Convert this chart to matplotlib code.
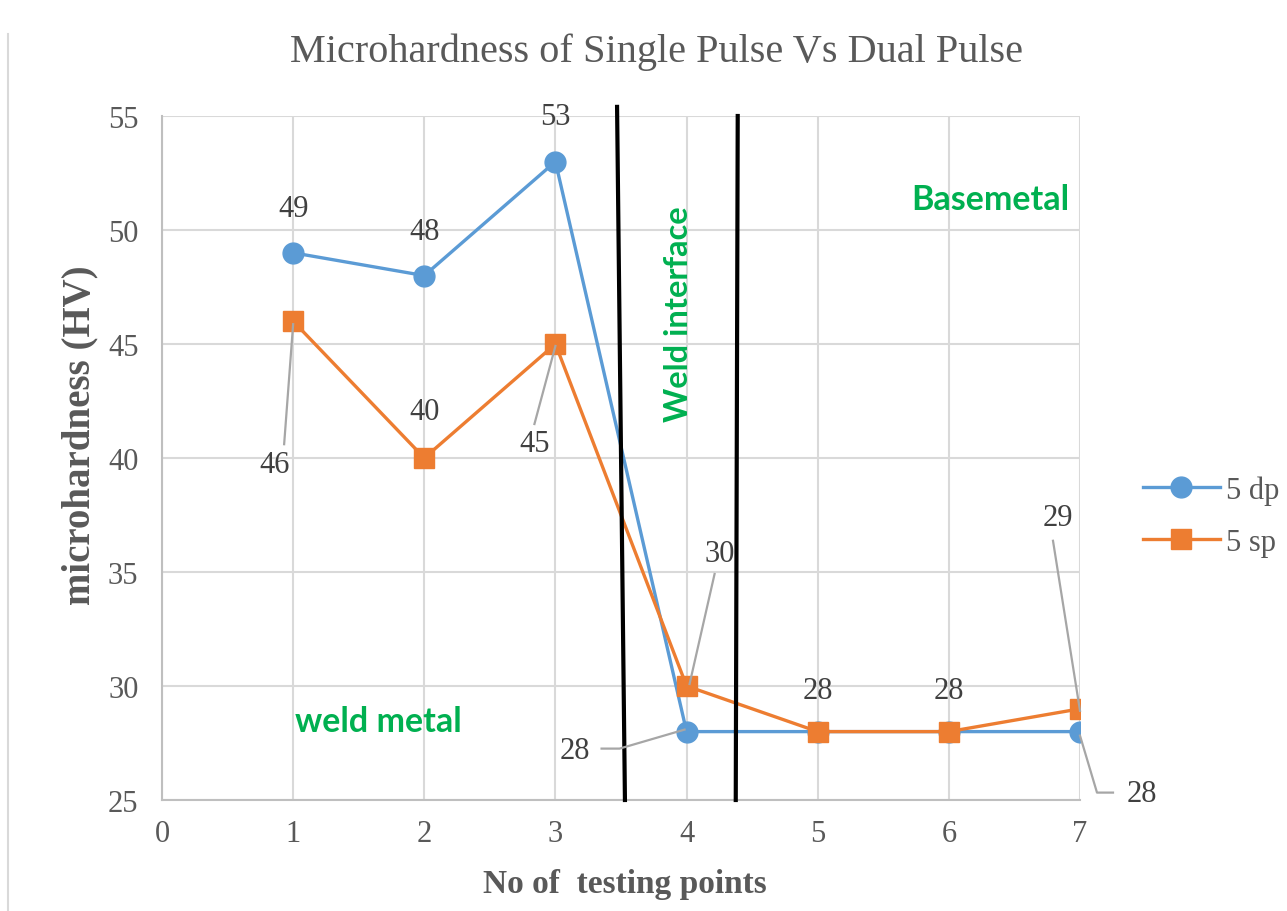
import matplotlib
matplotlib.use("Agg")
import matplotlib.pyplot as plt
import matplotlib.transforms as mtransforms
from matplotlib.lines import Line2D

# ---- data ----
x_points = [1, 2, 3, 4, 5, 6, 7]
dp_values = [49, 48, 53, 28, 28, 28, 28]
sp_values = [46, 40, 45, 30, 28, 28, 29]
series_names = ["5 dp", "5 sp"]
x_ticks = [0, 1, 2, 3, 4, 5, 6, 7]
y_ticks = [25, 30, 35, 40, 45, 50, 55]
title = "Microhardness of Single Pulse Vs Dual Pulse"
xlabel = "No of  testing points"
ylabel = "microhardness (HV)"
boundary1 = ([3.47, 3.53], [55.4, 25])
boundary2 = ([4.39, 4.375], [55, 25])

BLUE = "#5B9BD5"
ORANGE = "#ED7D31"
GREEN = "#00B050"
GREY_TXT = "#595959"
LEADER = "#A6A6A6"
SERIF = "Liberation Serif"
GFONT = "Lato"

fig = plt.figure(figsize=(12.87, 9.12), dpi=100)
ax = fig.add_axes([162/1287, 1-801/912, (1080-162)/1287, (801-117)/912])

ax.set_xlim(0, 7)
ax.set_ylim(25, 55)
ax.set_xticks(x_ticks)
ax.set_yticks(y_ticks)
ax.grid(True, color="#D9D9D9", linewidth=1.5)
ax.set_axisbelow(True)
for s in ["top", "right"]:
    ax.spines[s].set_visible(False)
for s in ["left", "bottom"]:
    ax.spines[s].set_color("#BFBFBF")
    ax.spines[s].set_linewidth(1.5)
ax.tick_params(length=0, labelsize=22, labelcolor=GREY_TXT)
ax.tick_params(axis="y", pad=17)
ax.tick_params(axis="x", pad=14)
for lab in ax.get_xticklabels() + ax.get_yticklabels():
    lab.set_fontfamily(SERIF)

ax.plot(x_points, dp_values, color=BLUE, lw=2.4, marker="o", ms=15,
        label=series_names[0], zorder=4)
ax.plot(x_points, sp_values, color=ORANGE, lw=2.4, marker="s", ms=14,
        label=series_names[1], zorder=5)

ax.plot(*boundary1, color="black", lw=3, clip_on=False, zorder=6)
ax.plot(*boundary2, color="black", lw=3, clip_on=False, zorder=6)

def label(x, y, text, dx, dy, leader=None):
    ax.annotate(text, (x, y), xytext=(dx, dy), textcoords="offset pixels",
                ha="center", va="center", fontsize=22, color="#404040",
                family=SERIF, zorder=8)
    if leader:
        tr = mtransforms.IdentityTransform() + mtransforms.ScaledTranslation(x, y, ax.transData)
        xs = [p[0] for p in leader]
        ys = [p[1] for p in leader]
        ax.add_line(Line2D(xs, ys, transform=tr, color=LEADER, lw=1.6,
                           clip_on=False, zorder=7))

# dp labels
label(x_points[0], dp_values[0], str(dp_values[0]), 0, 44)
label(x_points[1], dp_values[1], str(dp_values[1]), 0, 44)
label(x_points[2], dp_values[2], str(dp_values[2]), 0, 45)
label(x_points[3], dp_values[3], str(dp_values[3]), -112, -19,
      leader=[(-85, -17), (-67, -17), (-2, 2)])
label(x_points[6], dp_values[6], str(dp_values[6]), 62, -62,
      leader=[(0, -4), (17, -61), (33, -61)])
# sp labels
label(x_points[0], sp_values[0], str(sp_values[0]), -19, -143,
      leader=[(-9, -123), (0, -3)])
label(x_points[1], sp_values[1], str(sp_values[1]), 0, 46)
label(x_points[2], sp_values[2], str(sp_values[2]), -21, -100,
      leader=[(-21, -80), (0, -2)])
label(x_points[3], sp_values[3], str(sp_values[3]), 33, 132,
      leader=[(28, 112), (3, 2)])
label(x_points[4], sp_values[4], str(sp_values[4]), 0, 41)
label(x_points[5], sp_values[5], str(sp_values[5]), 0, 41)
label(x_points[6], sp_values[6], str(sp_values[6]), -22, 191,
      leader=[(-27, 168), (0, -2)])

# region annotations
ax.text((990-162)/918, 1-(200-117)/684, "Basemetal", transform=ax.transAxes,
        ha="center", va="center", color=GREEN, fontsize=24.5, fontweight="bold",
        family=GFONT)
ax.text((378-162)/918, 1-(722-117)/684, "weld metal", transform=ax.transAxes,
        ha="center", va="center", color=GREEN, fontsize=24.5, fontweight="bold",
        family=GFONT)
ax.text((678-162)/918, 1-(314-117)/684, "Weld interface", transform=ax.transAxes,
        ha="center", va="center", color=GREEN, fontsize=23.5, fontweight="bold",
        family=GFONT, rotation=90)

fig.text(657/1287, 1-52/912, title, ha="center", va="center", fontsize=29,
         color=GREY_TXT, family=SERIF)
fig.text(625/1287, 1-885/912, xlabel, ha="center", va="center", fontsize=24,
         color=GREY_TXT, family=SERIF, fontweight="bold")
fig.text(80/1287, 1-435/912, ylabel, ha="center", va="center", fontsize=28,
         color=GREY_TXT, family=SERIF, fontweight="bold", rotation=90)

leg = ax.legend(loc="center left", bbox_to_anchor=(1128/1287, 1-517/912),
                bbox_transform=fig.transFigure, frameon=False,
                prop={"family": SERIF, "size": 22}, labelcolor=GREY_TXT,
                handlelength=2.5, handletextpad=0.2, labelspacing=0.75,
                markerscale=1.0, borderpad=0)

fig.add_artist(Line2D([8/1287, 8/1287], [0, 1-35/912], color="#D9D9D9", lw=1.5))

fig.savefig("out.png", dpi=100)
